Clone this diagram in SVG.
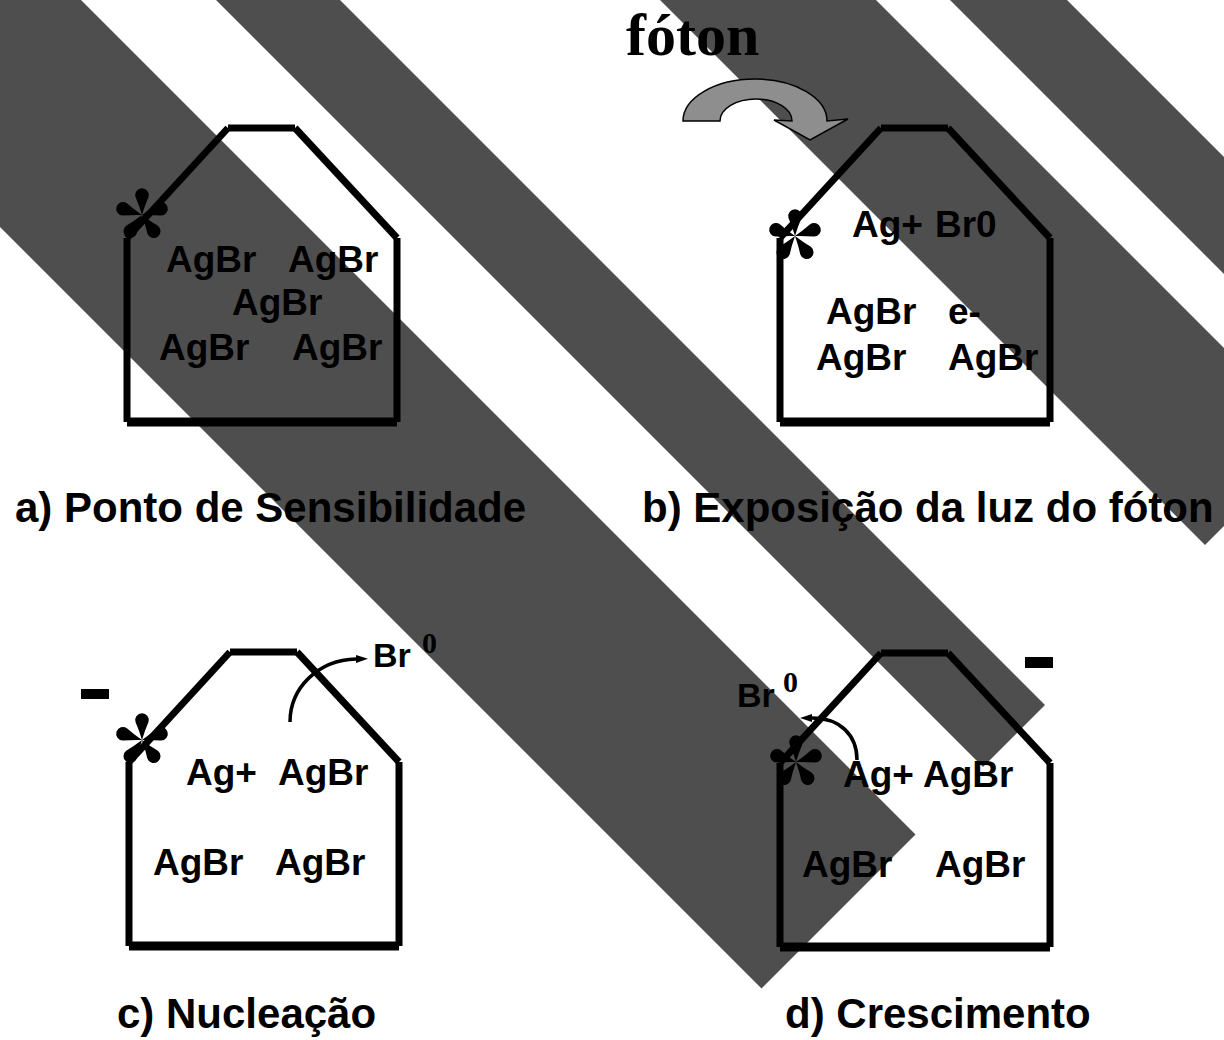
<svg xmlns="http://www.w3.org/2000/svg" width="1224" height="1040" viewBox="0 0 1224 1040">
  <style>
    .band { fill: #4e4e4e; }
    .wall { stroke: #000; stroke-width: 7; stroke-linecap: butt; fill: none; }
    .floor { stroke: #000; stroke-width: 9; stroke-linecap: butt; fill: none; }
    .t { font-family: "Liberation Sans", Arial, sans-serif; font-weight: bold; font-size: 37px; fill: #000; }
    .lbl { font-family: "Liberation Sans", Arial, sans-serif; font-weight: bold; font-size: 42px; fill: #000; }
    .br { font-family: "Liberation Sans", Arial, sans-serif; font-weight: bold; font-size: 34px; fill: #000; }
    .sup { font-family: "Liberation Serif", "Times New Roman", serif; font-weight: bold; font-size: 30px; fill: #000; }
    .title { font-family: "Liberation Serif", "Times New Roman", serif; font-weight: bold; font-size: 60px; fill: #000; }
    .flow { stroke: #000; stroke-width: 3.5; fill: none; }
  </style>
  <defs>
    <!-- teardrop petal, pointing up from the centre -->
    <path id="petal" d="M0,0 Q-3,-10 -6.5,-18 A6.8,6.8 0 1 1 6.5,-18 Q3,-10 0,0 Z" fill="#000"/>
    <g id="star">
      <use href="#petal"/>
      <use href="#petal" transform="rotate(72)"/>
      <use href="#petal" transform="rotate(144)"/>
      <use href="#petal" transform="rotate(216)"/>
      <use href="#petal" transform="rotate(288)"/>
    </g>
    <!-- crystal grain outline: six separate strokes -->
    <g id="grain">
      <line class="wall" x1="0" y1="110" x2="101" y2="0"/>
      <line class="wall" x1="101" y1="0" x2="168" y2="0"/>
      <line class="wall" x1="168" y1="0" x2="270" y2="110"/>
      <line class="wall" x1="0" y1="110" x2="0" y2="294"/>
      <line class="wall" x1="270" y1="110" x2="270" y2="294"/>
      <line class="floor" x1="0" y1="294" x2="270" y2="294"/>
    </g>
    <marker id="head" markerUnits="userSpaceOnUse" markerWidth="14" markerHeight="10" refX="0" refY="4" orient="auto">
      <path d="M0,0 L12,4 L0,8 Z" fill="#000"/>
    </marker>
  </defs>

  <rect width="1224" height="1040" fill="#fff"/>

  <!-- diagonal background bands -->
  <g id="bands">
    <polygon class="band" points="-19,-100 915.5,834.5 761.5,988.5 -327,-100"/>
    <polygon class="band" points="240,-100 1045,705 983,767 116,-100"/>
    <polygon class="band" points="776,-100 1313,437 1205,545 560,-100"/>
    <polygon class="band" points="967,-100 1400,333 1400,450 850,-100"/>
  </g>

  <!-- photon -->
  <g id="photon">
    <text class="title" x="626" y="55">fóton</text>
    <path d="M683,121 A72,42 0 0 1 827,121 L848,119 L810,140 L774,120 L792,121 A36,22 0 0 0 720,121 Z" fill="#8e8e8e" stroke="#000" stroke-width="1.5" stroke-linejoin="miter"/>
  </g>

  <!-- a) sensitivity speck -->
  <g id="grain-a">
    <use href="#grain" transform="translate(127,128)"/>
    <use href="#star" transform="translate(142,215)"/>
    <text class="t" x="166" y="272">AgBr</text>
    <text class="t" x="288" y="272">AgBr</text>
    <text class="t" x="232" y="315">AgBr</text>
    <text class="t" x="159" y="360">AgBr</text>
    <text class="t" x="292" y="360">AgBr</text>
    <text class="lbl" x="15" y="522">a) Ponto de Sensibilidade</text>
  </g>

  <!-- b) exposure -->
  <g id="grain-b">
    <use href="#grain" transform="translate(780,128)"/>
    <use href="#star" transform="translate(795,236)"/>
    <text class="t" x="852" y="237">Ag+</text>
    <text class="t" x="935" y="237">Br0</text>
    <text class="t" x="826" y="324">AgBr</text>
    <text class="t" x="948" y="324">e-</text>
    <text class="t" x="816" y="370">AgBr</text>
    <text class="t" x="948" y="370">AgBr</text>
    <text class="lbl" x="642" y="522">b) Exposição da luz do fóton</text>
  </g>

  <!-- c) nucleation -->
  <g id="grain-c">
    <use href="#grain" transform="translate(129,652)"/>
    <use href="#star" transform="translate(142,740)"/>
    <rect x="81" y="689" width="28" height="10" fill="#000"/>
    <text class="t" x="186" y="785">Ag+</text>
    <text class="t" x="278" y="785">AgBr</text>
    <text class="t" x="153" y="875">AgBr</text>
    <text class="t" x="275" y="875">AgBr</text>
    <text class="br" x="373" y="667">Br</text>
    <text class="sup" x="422" y="653">0</text>
    <text class="lbl" x="117" y="1028">c) Nucleação</text>
  </g>

  <!-- d) growth -->
  <g id="grain-d">
    <use href="#grain" transform="translate(780,653)"/>
    <use href="#star" transform="translate(796,762)"/>
    <rect x="1025" y="657" width="28" height="11" fill="#000"/>
    <text class="t" x="843" y="787">Ag+</text>
    <text class="t" x="923" y="787">AgBr</text>
    <text class="t" x="802" y="877">AgBr</text>
    <text class="t" x="935" y="877">AgBr</text>
    <text class="br" x="737" y="707">Br</text>
    <text class="sup" x="783" y="692">0</text>
    <text class="lbl" x="785" y="1028">d) Crescimento</text>
  </g>

  <!-- Br0 release paths -->
  <g id="connectors">
    <path class="flow" d="M290,722 C290,688 318,660 356,659" marker-end="url(#head)"/>
    <path class="flow" d="M857,760 C857,735 840,718 812,718" stroke-width="3" marker-end="url(#head)"/>
  </g>
</svg>
